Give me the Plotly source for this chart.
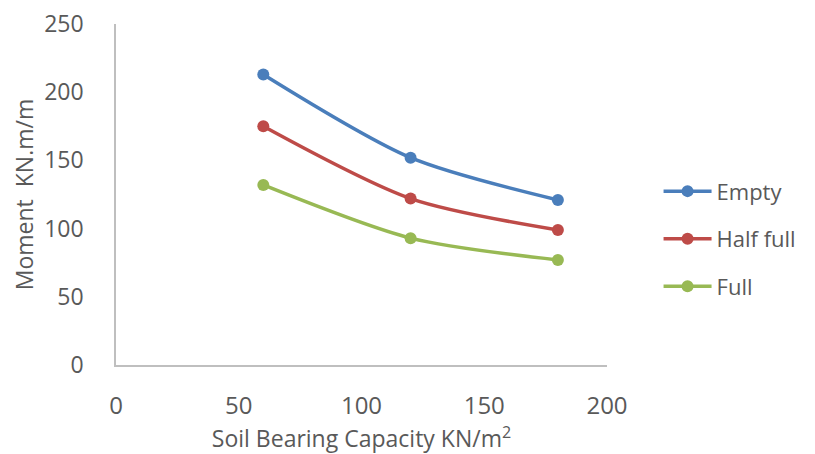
import plotly.graph_objects as go

capacity = [60, 120, 180]
empty = [213, 152, 121]
half_full = [175, 122, 99]
full = [132, 93, 77]

series = [("Empty", empty, "#4A7EBB"),
          ("Half full", half_full, "#BE4B48"),
          ("Full", full, "#98B954")]

fig = go.Figure()
for name, vals, col in series:
    fig.add_trace(go.Scatter(
        x=capacity, y=vals, name=name, legendgroup=name, mode="lines+markers",
        line=dict(color=col, width=3.5, shape="spline", smoothing=0.8),
        marker=dict(color=col, size=12)))

font = "Open Sans, Liberation Sans, sans-serif"
fig.update_layout(
    width=815, height=454,
    paper_bgcolor="white", plot_bgcolor="white",
    margin=dict(l=108, r=216, t=16, b=97, autoexpand=False),
    font=dict(family=font, color="#595959", size=22),
    legend=dict(x=1.105, y=0.37, xanchor="left", yanchor="middle",
                font=dict(size=22, color="#595959"), tracegroupgap=16,
                itemwidth=48),
    xaxis=dict(range=[0, 200], dtick=50, showgrid=False, zeroline=False,
               showline=True, linecolor="#BFBFBF", linewidth=1.5,
               ticks="", ticklabelstandoff=18, automargin=False,
               tickfont=dict(size=24), ticklabeloverflow="allow",
               title=dict(text="Soil Bearing Capacity KN/m<sup>2</sup>",
                          font=dict(size=23), standoff=4)),
    yaxis=dict(range=[0, 250], dtick=50, showgrid=False, zeroline=False,
               showline=True, linecolor="#BFBFBF", linewidth=1.5,
               ticks="", ticklabelstandoff=26, automargin=False,
               tickfont=dict(size=23), ticklabeloverflow="allow",
               title=dict(text="Moment  KN.m/m", font=dict(size=23), standoff=10)),
)

fig.write_html("out.html")
